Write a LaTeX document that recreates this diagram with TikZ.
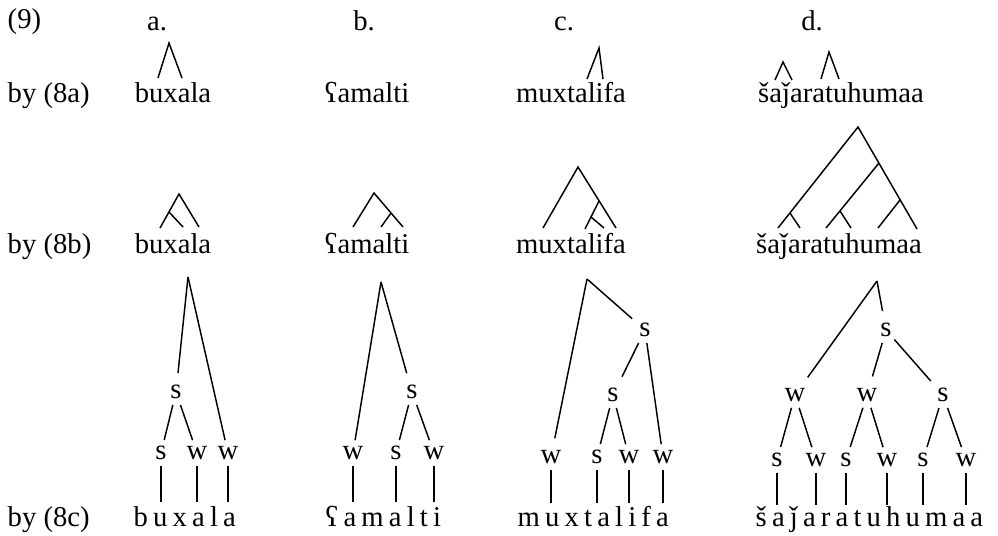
\documentclass[tikz,border=0pt]{standalone}
\usepackage{fontspec}
\setmainfont{Liberation Serif}
\newfontfamily\spacedfont[LetterSpace=18]{Liberation Serif}
\begin{document}
\begin{tikzpicture}[x=0.75pt,y=-0.75pt, line width=1.1pt,
  lab/.style={inner sep=0pt, font=\fontsize{21.5}{24}\selectfont, anchor=base},
  word/.style={inner sep=0pt, font=\fontsize{21.5}{24}\selectfont, anchor=base},
  sword/.style={inner sep=0pt, font=\spacedfont\fontsize{21.5}{24}\selectfont, anchor=base west},
  sw/.style={inner xsep=1.5pt, inner ysep=4pt, font=\fontsize{21.5}{24}\selectfont},
  toint/.style={shorten >=4.5pt}]
\useasboundingbox (0,0) rectangle (998,535);

% header
\node[lab, anchor=base west] (n9) at (7,29) {(9)};
\node[lab] (ha) at (157,31) {a.};
\node[lab] (hb) at (364,31) {b.};
\node[lab] (hc) at (564,31) {c.};
\node[lab] (hd) at (812,31) {d.};

% row labels
\node[lab, anchor=base west] (r1) at (7,103) {by (8a)};
\node[lab, anchor=base west] (r2) at (7,253) {by (8b)};
\node[lab, anchor=base west] (r3) at (7,526) {by (8c)};

% ---------- row 1 ----------
\node[word] (w1a) at (173,103) {buxala};
\node[word] (w1b) at (367,103) {ʕamalti};
\node[word] (w1c) at (571,103) {muxtalifa};
\node[word] (w1d) at (841,103) {šaǰaratuhumaa};

\coordinate (p1aL) at (158,78); \coordinate (p1aT) at (169,43); \coordinate (p1aR) at (182,78);
\draw (p1aL) -- (p1aT) -- (p1aR);
\coordinate (p1cL) at (587,79); \coordinate (p1cT) at (599,48); \coordinate (p1cR) at (603,79);
\draw (p1cL) -- (p1cT) -- (p1cR);
\coordinate (p1dL) at (775,80); \coordinate (p1dT) at (783,62); \coordinate (p1dR) at (792,80);
\draw (p1dL) -- (p1dT) -- (p1dR);
\coordinate (p1eL) at (821,79); \coordinate (p1eT) at (829,52); \coordinate (p1eR) at (839,79);
\draw (p1eL) -- (p1eT) -- (p1eR);

% ---------- row 2 ----------
\node[word] (w2a) at (173,253) {buxala};
\node[word] (w2b) at (367,253) {ʕamalti};
\node[word] (w2c) at (571,253) {muxtalifa};
\node[word] (w2d) at (839,253) {šaǰaratuhumaa};

% a
\coordinate (q2aT) at (179,194); \coordinate (q2aL) at (160,228); \coordinate (q2aR) at (199,227);
\coordinate (q2aM) at (169,212); \coordinate (q2aI) at (183,227);
\draw (q2aL) -- (q2aT) -- (q2aR);
\draw (q2aM) -- (q2aI);
% b
\coordinate (q2bT) at (374,193); \coordinate (q2bL) at (353,227); \coordinate (q2bR) at (403,227);
\coordinate (q2bM) at (391,213); \coordinate (q2bI) at (381,227);
\draw (q2bL) -- (q2bT) -- (q2bR);
\draw (q2bM) -- (q2bI);
% c
\coordinate (q2cT) at (578,167); \coordinate (q2cL) at (543,228); \coordinate (q2cR) at (616,228);
\coordinate (q2cM) at (599,201); \coordinate (q2cI) at (585,229);
\coordinate (q2cN) at (591,217); \coordinate (q2cJ) at (604,228);
\draw (q2cL) -- (q2cT) -- (q2cR);
\draw (q2cM) -- (q2cI);
\draw (q2cN) -- (q2cJ);
% d
\coordinate (q2dT) at (858,127); \coordinate (q2dL) at (778,228); \coordinate (q2dR) at (917,229);
\coordinate (q2dM1) at (879,163); \coordinate (q2dB1) at (826,228);
\coordinate (q2dM2) at (900,200); \coordinate (q2dB2) at (878,228);
\coordinate (q2dK1) at (790,213); \coordinate (q2dE1) at (800,228);
\coordinate (q2dK2) at (840,211); \coordinate (q2dE2) at (851,228);
\draw (q2dL) -- (q2dT) -- (q2dR);
\draw (q2dM1) -- (q2dB1);
\draw (q2dM2) -- (q2dB2);
\draw (q2dK1) -- (q2dE1);
\draw (q2dK2) -- (q2dE2);

% ---------- row 3 ----------
% a
\coordinate (t3a) at (188,277);
\node[sw] (a_s1) at (176,392) {s};
\node[sw] (a_l1) at (161,453) {s};
\node[sw] (a_l2) at (197,453) {w};
\node[sw] (a_l3) at (228,453) {w};
\draw[toint] (t3a) -- (a_s1);
\draw (t3a) -- (a_l3);
\draw (a_s1) -- (a_l1);
\draw (a_s1) -- (a_l2);
\coordinate (a_v1) at (161,502); \coordinate (a_v2) at (197,502); \coordinate (a_v3) at (228,502);
\draw (a_l1) -- (a_v1); \draw (a_l2) -- (a_v2); \draw (a_l3) -- (a_v3);
\node[sword] (w3a) at (133,526) {buxala};

% b
\coordinate (t3b) at (381,282);
\node[sw] (b_l1) at (353,453) {w};
\node[sw] (b_s1) at (412,392) {s};
\node[sw] (b_l2) at (396,453) {s};
\node[sw] (b_l3) at (434,453) {w};
\draw (t3b) -- (b_l1);
\draw[toint] (t3b) -- (b_s1);
\draw (b_s1) -- (b_l2);
\draw (b_s1) -- (b_l3);
\coordinate (b_v1) at (353,502); \coordinate (b_v2) at (396,502); \coordinate (b_v3) at (434,502);
\draw (b_l1) -- (b_v1); \draw (b_l2) -- (b_v2); \draw (b_l3) -- (b_v3);
\node[sword] (w3b) at (325,526) {ʕamalti};

% c
\coordinate (t3c) at (587,279);
\node[sw] (c_l1) at (551,457) {w};
\node[sw] (c_s1) at (645,330) {s};
\node[sw] (c_s2) at (613,395) {s};
\node[sw] (c_l2) at (597,457) {s};
\node[sw] (c_l3) at (629,457) {w};
\node[sw] (c_l4) at (663,457) {w};
\draw[toint] (t3c) -- (c_l1);
\draw[toint] (t3c) -- (c_s1);
\draw[toint] (c_s1) -- (c_s2);
\draw (c_s1) -- (c_l4);
\draw (c_s2) -- (c_l2);
\draw (c_s2) -- (c_l3);
\coordinate (c_v1) at (551,503); \coordinate (c_v2) at (597,503);
\coordinate (c_v3) at (629,503); \coordinate (c_v4) at (663,503);
\draw (c_l1) -- (c_v1); \draw (c_l2) -- (c_v2); \draw (c_l3) -- (c_v3); \draw (c_l4) -- (c_v4);
\node[sword] (w3c) at (517,526) {muxtalifa};

% d
\coordinate (t3d) at (877,281);
\node[sw] (d_w1) at (795,395) {w};
\node[sw] (d_s1) at (886,330) {s};
\node[sw] (d_w2) at (867,395) {w};
\node[sw] (d_s2) at (943,395) {s};
\node[sw] (d_l1) at (777,460) {s};
\node[sw] (d_l2) at (816,460) {w};
\node[sw] (d_l3) at (846,460) {s};
\node[sw] (d_l4) at (887,460) {w};
\node[sw] (d_l5) at (923,460) {s};
\node[sw] (d_l6) at (966,460) {w};
\draw[toint] (t3d) -- (d_w1);
\draw[toint] (t3d) -- (d_s1);
\draw[toint] (d_s1) -- (d_w2);
\draw[toint] (d_s1) -- (d_s2);
\draw (d_w1) -- (d_l1);
\draw (d_w1) -- (d_l2);
\draw (d_w2) -- (d_l3);
\draw (d_w2) -- (d_l4);
\draw (d_s2) -- (d_l5);
\draw (d_s2) -- (d_l6);
\coordinate (d_v1) at (777,505); \coordinate (d_v2) at (816,505); \coordinate (d_v3) at (846,505);
\coordinate (d_v4) at (887,505); \coordinate (d_v5) at (923,505); \coordinate (d_v6) at (966,505);
\draw (d_l1) -- (d_v1); \draw (d_l2) -- (d_v2); \draw (d_l3) -- (d_v3);
\draw (d_l4) -- (d_v4); \draw (d_l5) -- (d_v5); \draw (d_l6) -- (d_v6);
\node[sword] (w3d) at (755,526) {šaǰaratuhumaa};
\end{tikzpicture}
\end{document}
